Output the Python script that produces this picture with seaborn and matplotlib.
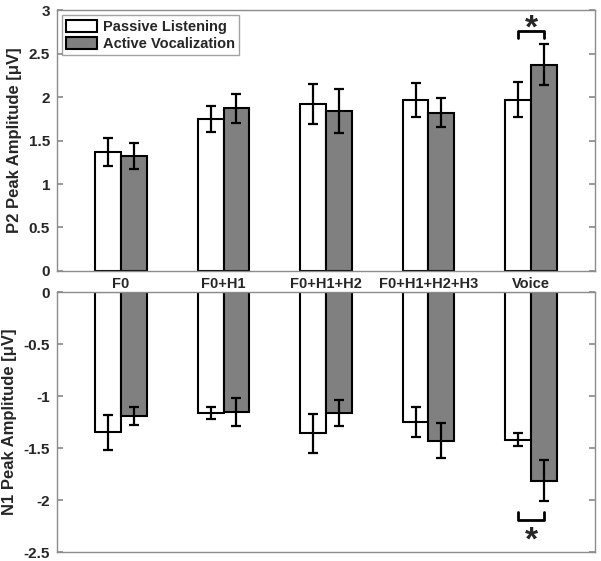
import matplotlib
matplotlib.use("Agg")
import matplotlib.pyplot as plt
import matplotlib.ticker as mticker
from matplotlib.patches import Patch
import seaborn as sns
import pandas as pd

conditions = ["F0", "F0+H1", "F0+H1+H2", "F0+H1+H2+H3", "Voice"]
groups = ["Passive Listening", "Active Vocalization"]

p2_passive = [1.37, 1.745, 1.92, 1.965, 1.97]
p2_passive_err = [0.16, 0.15, 0.225, 0.20, 0.20]
p2_active = [1.32, 1.87, 1.84, 1.82, 2.37]
p2_active_err = [0.15, 0.165, 0.25, 0.165, 0.235]

n1_passive = [-1.35, -1.165, -1.36, -1.25, -1.42]
n1_passive_err = [0.17, 0.055, 0.185, 0.14, 0.065]
n1_active = [-1.195, -1.15, -1.16, -1.43, -1.815]
n1_active_err = [0.085, 0.135, 0.125, 0.17, 0.195]

sns.set_theme(style="white")
plt.rcParams["font.family"] = ["Liberation Sans", "DejaVu Sans"]
plt.rcParams["font.weight"] = "bold"
plt.rcParams["axes.unicode_minus"] = False

colors = {"Passive Listening": "white", "Active Vocalization": "#808080"}
frame_col = "#8c8c8c"


def make_df(passive, active):
    return pd.DataFrame({
        "cond": conditions * 2,
        "group": [groups[0]] * len(conditions) + [groups[1]] * len(conditions),
        "val": passive + active,
    })


def draw_panel(ax, passive, passive_err, active, active_err, ylim, yticks, ylabel):
    df = make_df(passive, active)
    sns.barplot(data=df, x="cond", y="val", hue="group", order=conditions,
                hue_order=groups, palette=colors, edgecolor="black",
                linewidth=1.5, width=0.5, gap=0, errorbar=None, ax=ax,
                legend=False)
    centers = []
    for cont, e, v in zip(ax.containers, [passive_err, active_err], [passive, active]):
        xs = [b.get_x() + b.get_width() / 2 for b in cont]
        centers.append(xs)
        ax.errorbar(xs, v, yerr=e, fmt="none", ecolor="black", elinewidth=1.6,
                    capsize=3.5, capthick=1.6, zorder=5)
    ax.set_xlim(-0.625, 4.625)
    ax.set_ylim(*ylim)
    ax.set_yticks(yticks)
    ax.yaxis.set_major_formatter(mticker.FormatStrFormatter("%g"))
    ax.set_ylabel(ylabel, fontsize=12, fontweight="bold", labelpad=5)
    ax.set_xlabel("")
    for s in ax.spines.values():
        s.set_color(frame_col)
        s.set_linewidth(1.0)
    ax.tick_params(axis="y", direction="in", length=4, color=frame_col,
                   left=True, right=True, labelsize=11, pad=5)
    ax.tick_params(axis="x", length=0, labelsize=10.5, pad=4)
    for t in ax.get_yticklabels() + ax.get_xticklabels():
        t.set_fontweight("bold")
    return centers


def star(ax, x, y):
    # y is roughly the visual centre of the asterisk glyph
    ax.annotate("*", xy=(x, y), xytext=(0, -10.5), textcoords="offset points",
                ha="center", va="baseline", fontsize=24, fontweight="bold")


fig = plt.figure(figsize=(6.01, 5.61), dpi=100)
ax1 = fig.add_axes([0.0948, 0.517, 0.8952, 0.465])
ax2 = fig.add_axes([0.0948, 0.016, 0.8952, 0.4635])

c1 = draw_panel(ax1, p2_passive, p2_passive_err, p2_active, p2_active_err,
                (0, 3), [0, 0.5, 1, 1.5, 2, 2.5, 3], "P2 Peak Amplitude [\u03bcV]")
c2 = draw_panel(ax2, n1_passive, n1_passive_err, n1_active, n1_active_err,
                (-2.5, 0), [-2.5, -2, -1.5, -1, -0.5, 0], "N1 Peak Amplitude [\u03bcV]")
ax2.set_xticklabels([])

# significance brackets for Voice
x0, x1 = c1[0][4], c1[1][4]
ax1.plot([x0, x0, x1, x1], [2.68, 2.76, 2.76, 2.68], color="black", lw=2)
star(ax1, (x0 + x1) / 2, 2.85)
x0, x1 = c2[0][4], c2[1][4]
ax2.plot([x0, x0, x1, x1], [-2.115, -2.19, -2.19, -2.115], color="black", lw=2)
star(ax2, (x0 + x1) / 2, -2.34)

# legend
handles = [Patch(facecolor=colors[g], edgecolor="black", linewidth=1.5, label=g)
           for g in groups]
leg = ax1.legend(handles=handles, loc="upper left", fontsize=10.5,
                 handlelength=2.1, handleheight=0.9, handletextpad=0.4,
                 labelspacing=0.2, borderpad=0.3, borderaxespad=0.35,
                 frameon=True, fancybox=False)
leg.get_frame().set_edgecolor(frame_col)
leg.get_frame().set_linewidth(1.0)
for t in leg.get_texts():
    t.set_fontweight("bold")

fig.savefig("out.png", dpi=100)
